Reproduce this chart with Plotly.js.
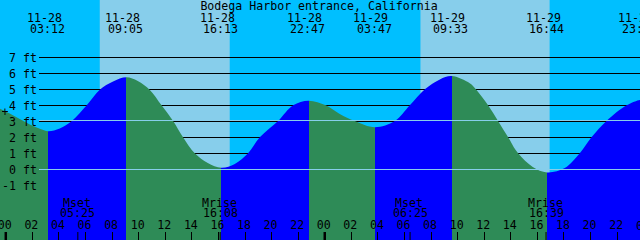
<!DOCTYPE html>
<html>
<head>
<meta charset="utf-8">
<script src="https://cdn.plot.ly/plotly-3.0.1.min.js"></script>
<style>html,body{margin:0;padding:0;background:#00BFFF;}#chart{width:640px;height:240px;}</style>
</head>
<body>
<div id="chart"></div>
<script>
// ---- data (hours since 11-28 00:00, levels in feet) ----
const titleText = 'Bodega Harbor entrance, California';
const curveHours = [-0.45, 0.30, 1.05, 1.81, 2.56, 3.20, 4.06, 4.97, 6.09, 7.07, 8.07, 9.08, 9.93, 10.84, 11.72, 12.59, 13.34, 14.22, 15.20, 16.22, 17.23, 18.23, 19.11, 20.49, 21.62, 22.78, 24.08, 25.13, 26.26, 27.78, 29.27, 30.40, 31.53, 32.66, 33.55, 34.91, 35.37, 36.29, 37.04, 37.80, 38.55, 39.65, 40.73, 42.06, 43.19, 44.07, 45.20, 46.71, 47.70, 47.80];
const curveFeet  = [3.81, 3.50, 3.16, 2.81, 2.54, 2.39, 2.56, 3.03, 4.01, 4.98, 5.50, 5.76, 5.53, 4.97, 4.01, 3.03, 2.01, 1.01, 0.41, 0.11, 0.34, 1.01, 2.01, 3.03, 4.01, 4.30, 4.01, 3.47, 3.03, 2.64, 3.03, 4.01, 5.01, 5.63, 5.84, 5.39, 5.01, 4.01, 3.03, 2.01, 1.01, 0.16, -0.18, 0.09, 1.01, 2.01, 3.03, 4.01, 4.35, 4.34];
const extremeHours = [3.20, 9.08, 16.22, 22.78, 27.78, 33.55, 40.73, 47.70];
const extremeFeet  = [2.39, 5.76, 0.11, 4.30, 2.64, 5.84, -0.18, 4.35];
const extremeDates = ['11-28', '11-28', '11-28', '11-28', '11-29', '11-29', '11-29', '11-29'];
const extremeTimes = ['03:12', '09:05', '16:13', '22:47', '03:47', '09:33', '16:44', '23:42'];
const sunriseHours = [7.07, 31.20];
const sunsetHours  = [16.85, 40.92];
const moonHours  = [5.42, 16.13, 30.42, 40.65];
const moonNames  = ['Mset', 'Mrise', 'Mset', 'Mrise'];
const moonTimes  = ['05:25', '16:08', '06:25', '16:39'];
const midnightHours = [0, 24];
const hourTicks  = [0, 2, 4, 6, 8, 10, 12, 14, 16, 18, 20, 22, 24, 26, 28, 30, 32, 34, 36, 38, 40, 42, 44, 46, 48];
const hourLabels = ['00', '02', '04', '06', '08', '10', '12', '14', '16', '18', '20', '22', '00', '02', '04', '06', '08', '10', '12', '14', '16', '18', '20', '22', '00'];
const gridFeet   = [-1, 0, 1, 2, 3, 4, 5, 6, 7];
const gridLabels = ['-1 ft', '0 ft', '1 ft', '2 ft', '3 ft', '4 ft', '5 ft', '6 ft', '7 ft'];
const datumFeet  = [0, 3.0625];

// ---- styling ----
const C = {night: '#00BFFF', day: '#87CEEB', flood: '#0000FF', ebb: '#2E8B57', datum: '#87CEEB', ink: '#000000'};
const FONT = {family: 'DejaVu Sans Mono, monospace', size: 11.6, color: C.ink};
const W = 640, H = 240;
const xRange = [-0.436, 47.72];
const yRange = [-4.406, 10.594];
const bottomFeet = -4.6;
const lineStartPx = 39;

// fill gradient: rising = flood colour, falling = ebb colour
const hStart = curveHours[0], hStop = curveHours[curveHours.length - 1];
const frac = h => (h - hStart) / (hStop - hStart);
let colour = (extremeFeet[0] < curveFeet[0]) ? C.ebb : C.flood;
let prevF = 0;
const scale = [];
extremeHours.forEach((h, i) => {
  const f = Math.min(1, Math.max(prevF, frac(h)));
  scale.push([prevF, colour], [f, colour]);
  colour = (colour === C.ebb) ? C.flood : C.ebb;
  prevF = f;
});
scale.push([prevF, colour], [1, colour]);

const traces = [
  {x: [hStart, hStop], y: [bottomFeet, bottomFeet], mode: 'lines', line: {width: 0, color: 'rgba(0,0,0,0)'}, hoverinfo: 'skip', showlegend: false},
  {x: curveHours, y: curveFeet, mode: 'lines', line: {width: 0, shape: 'spline', smoothing: 1, color: 'rgba(0,0,0,0)'},
   fill: 'tonexty', fillcolor: C.flood,
   fillgradient: {type: 'horizontal', start: hStart, stop: hStop, colorscale: scale},
   hoverinfo: 'skip', showlegend: false}
];

const shapes = [];
sunriseHours.forEach((h, i) => {
  shapes.push({type: 'rect', xref: 'x', yref: 'paper', x0: h, x1: sunsetHours[i], y0: 0, y1: 1,
    fillcolor: C.day, line: {width: 0}, layer: 'below'});
});
gridFeet.forEach(v => {
  shapes.push({type: 'line', xref: 'paper', yref: 'y', x0: lineStartPx / W, x1: 1, y0: v, y1: v,
    line: {color: C.ink, width: 1}, layer: 'below'});
});
datumFeet.forEach(v => {
  shapes.push({type: 'line', xref: 'paper', yref: 'y', x0: lineStartPx / W, x1: 1, y0: v, y1: v,
    line: {color: C.datum, width: 1}, layer: 'above'});
});
midnightHours.forEach(h => {
  shapes.push({type: 'line', xref: 'x', yref: 'paper', x0: h, x1: h, y0: 0, y1: 8 / H,
    line: {color: C.ink, width: 2.5}, layer: 'above'});
});
moonHours.forEach(h => {
  shapes.push({type: 'line', xref: 'x', yref: 'paper', x0: h, x1: h, y0: 0, y1: 8 / H,
    line: {color: C.ink, width: 1}, layer: 'above'});
});

const ann = [];
const py = p => 1 - p / H;
const label = (o) => Object.assign({showarrow: false, xanchor: 'center', yanchor: 'middle', valign: 'middle',
  font: FONT, borderpad: 0, yref: 'paper'}, o);
extremeHours.forEach((h, i) => {
  ann.push(label({x: h, xref: 'x', y: py(17.6), text: extremeDates[i], xshift: -4, height: 9.5}));
  ann.push(label({x: h, xref: 'x', y: py(28.8), text: extremeTimes[i], xshift: -0.7, height: 10}));
});
moonHours.forEach((h, i) => {
  ann.push(label({x: h, xref: 'x', y: py(202.5), text: moonNames[i], xshift: -1, height: 9.6}));
  ann.push(label({x: h, xref: 'x', y: py(212.8), text: moonTimes[i], xshift: 0, height: 9.6}));
});
// hour label that sits past the right edge (only partly visible)
const lastTick = hourTicks[hourTicks.length - 1];
ann.push(label({x: (lastTick - xRange[0]) / (xRange[1] - xRange[0]), xref: 'paper', y: py(225.5),
  text: hourLabels[hourLabels.length - 1], xshift: -1, height: 10}));
// small cross marker at the left edge
ann.push(label({x: 5 / W, xref: 'paper', y: py(112), text: '+', width: 6, height: 8}));

const layout = {
  width: W, height: H,
  margin: {l: 0, r: 0, t: 0, b: 0, pad: 0},
  paper_bgcolor: C.night, plot_bgcolor: C.night,
  showlegend: false,
  title: {text: titleText, font: FONT, x: 0.4985, xanchor: 'center', y: 1 - 6.0 / H, yanchor: 'middle', yref: 'container'},
  xaxis: {range: xRange, tickvals: hourTicks.slice(0, -1), ticktext: hourLabels.slice(0, -1),
    ticks: 'inside', ticklen: 8, tickwidth: 1, tickcolor: C.ink,
    ticklabelposition: 'inside', ticklabeloverflow: 'allow', ticklabelstandoff: 0, ticklabelshift: -1,
    tickfont: FONT, showgrid: false, zeroline: false, showline: false, fixedrange: true},
  yaxis: {range: yRange, tickvals: gridFeet, ticktext: gridLabels, ticks: '',
    anchor: 'free', position: 37 / W, tickfont: FONT,
    showgrid: false, zeroline: false, showline: false, fixedrange: true},
  shapes: shapes,
  annotations: ann
};

Plotly.newPlot('chart', traces, layout, {displayModeBar: false, staticPlot: true});
</script>
</body>
</html>
